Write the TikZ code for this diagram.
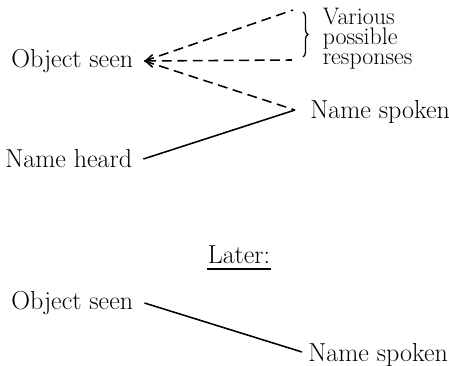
\documentclass[tikz,border=0pt]{standalone}
\usepackage{amsmath}
\usepackage{tikz}
\usetikzlibrary{arrows.meta,decorations.pathreplacing}

\begin{document}
\begin{tikzpicture}[x=0.025cm,y=-0.025cm,line width=1.1pt,
	label text/.style={font=\fontsize{18.5}{21}\selectfont,inner xsep=7.5pt,inner ysep=3pt},
	small text/.style={font=\fontsize{17}{14.5}\selectfont,inner sep=0pt,align=left},
	dash line/.style={dash pattern=on 7pt off 4pt}]
	\useasboundingbox (0,0) rectangle (449,366);
	\node[label text,anchor=west] (seen) at (0,61) {Object seen};
	\node[label text,anchor=west] (heard) at (-6,159) {Name heard};
	\node[label text,anchor=west] (spoken) at (299,112) {Name spoken};
	\node[small text,anchor=base west] (resp) at (322,65) {Various\\possible\\responses};
	\coordinate (r1) at (293,10);
	\coordinate (r2) at (292,60);
	\coordinate (j) at (295,110);
	\draw[dash line] (seen.east) -- (r1);
	\draw[dash line,{Straight Barb[length=5pt,width=9pt]}-] (seen.east) -- (r2);
	\draw[dash line] (seen.east) -- (j);
	\draw (heard.east) -- (j);
	\draw[decorate,decoration={brace,amplitude=3.5pt},line width=0.9pt] (303,12) -- (303,57);
	\node[label text,inner sep=0pt] (later) at (239,255) {Later:};
	\draw[line width=1.4pt] ([yshift=-4pt]later.base west) -- ([yshift=-4pt]later.base east);
	\node[label text,anchor=west] (seen2) at (0,303) {Object seen};
	\node[label text,anchor=west] (spoken2) at (297,355) {Name spoken};
	\coordinate (j2) at (302,352);
	\draw (seen2.east) -- (j2);
\end{tikzpicture}
\end{document}
